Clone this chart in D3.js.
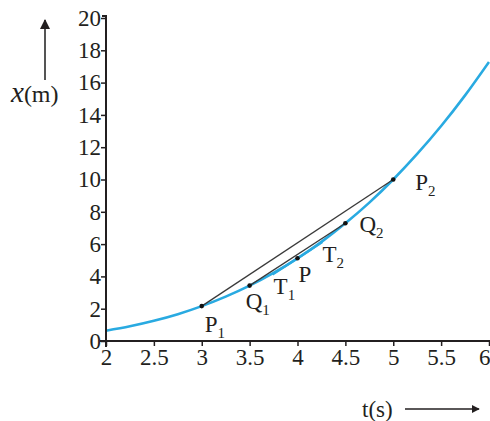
<!DOCTYPE html>
<html>
<head>
<meta charset="utf-8">
<script src="https://cdn.jsdelivr.net/npm/d3@7"></script>
<style>
  body { margin: 0; background: #ffffff; }
  svg { display: block; }
  text { font-family: "Liberation Serif", "DejaVu Serif", serif; fill: #231f20; }
</style>
</head>
<body>
<svg id="chart" width="490" height="421"></svg>
<script>
// Position–time curve samples (t in s, x in m)
const timeValues = [2, 2.25, 2.5, 2.75, 3, 3.25, 3.5, 3.75, 4, 4.25, 4.5, 4.75, 5, 5.25, 5.5, 5.75, 6];
const positionValues = [0.64, 0.91, 1.25, 1.66, 2.16, 2.75, 3.43, 4.22, 5.12, 6.14, 7.29, 8.57, 10, 11.58, 13.31, 15.21, 17.28];

// Marked points on the curve
const pointNames = ["P1", "Q1", "P", "Q2", "P2"];
const pointTimes = [3, 3.5, 4, 4.5, 5];
const pointPositions = [2.16, 3.43, 5.12, 7.29, 10];

// Tangent at P: end points T1 and T2
const tangentTimes = [3.74, 4.26];
const tangentPositions = [4.12, 6.12];

// Axis tick labels
const xTicks = [2, 2.5, 3, 3.5, 4, 4.5, 5, 5.5, 6];
const yTicks = [0, 2, 4, 6, 8, 10, 12, 14, 16, 18, 20];

const svg = d3.select("#chart");
const x = d3.scaleLinear().domain([2, 6]).range([106, 489]);
const y = d3.scaleLinear().domain([0, 20]).range([341, 18]);

const ink = "#231f20";
const blue = "#29aae1";

// Curve
const curveData = timeValues.map((t, i) => [t, positionValues[i]]);
svg.append("path")
  .datum(curveData)
  .attr("fill", "none")
  .attr("stroke", blue)
  .attr("stroke-width", 2.6)
  .attr("d", d3.line().x(d => x(d[0])).y(d => y(d[1])).curve(d3.curveCatmullRom));

// Chords P1P2 and Q1Q2
const chords = [[0, 4], [1, 3]];
chords.forEach(([a, b]) => {
  svg.append("line")
    .attr("x1", x(pointTimes[a])).attr("y1", y(pointPositions[a]))
    .attr("x2", x(pointTimes[b])).attr("y2", y(pointPositions[b]))
    .attr("stroke", "#3a3a3a").attr("stroke-width", 1.3);
});

// Tangent T1T2
svg.append("line")
  .attr("x1", x(tangentTimes[0])).attr("y1", y(tangentPositions[0]))
  .attr("x2", x(tangentTimes[1])).attr("y2", y(tangentPositions[1]))
  .attr("stroke", blue).attr("stroke-width", 2.2);

// Point dots
svg.selectAll("circle.pt")
  .data(pointTimes)
  .join("circle")
  .attr("class", "pt")
  .attr("cx", (d) => x(d))
  .attr("cy", (d, i) => y(pointPositions[i]))
  .attr("r", 2.3)
  .attr("fill", "#111");

// Axes
const xAxis = d3.axisBottom(x).tickValues(xTicks).tickSize(5).tickSizeOuter(0)
  .tickFormat(d3.format("~g"));
const gx = svg.append("g").attr("transform", `translate(0,${y(0)})`).call(xAxis);
gx.select(".domain").attr("stroke", ink).attr("stroke-width", 2).attr("d", `M100,0H490`);
gx.selectAll(".tick line").attr("stroke", ink).attr("stroke-width", 1.5);
gx.selectAll(".tick text").attr("font-size", 23).attr("dy", "0.85em").attr("y", 4)
  .style("font-family", "Liberation Serif").attr("fill", ink)
  .attr("text-anchor", d => d === 6 ? "end" : "middle")
  .attr("dx", d => d === 6 ? 1 : 0);

const yAxis = d3.axisLeft(y).tickValues(yTicks).tickSize(5).tickSizeOuter(0);
const gy = svg.append("g").attr("transform", `translate(${x(2)},0)`).call(yAxis);
gy.select(".domain").attr("stroke", ink).attr("stroke-width", 2).attr("d", `M-4,${y(20) - 2}H0V${y(0) + 6}`);
gy.selectAll(".tick line").attr("stroke", ink).attr("stroke-width", 1.5);
gy.selectAll(".tick text").attr("font-size", 23).attr("x", -5)
  .style("font-family", "Liberation Serif").attr("fill", ink);

// Axis titles with arrows
svg.append("defs").append("marker")
  .attr("id", "arrow").attr("viewBox", "0 0 10 10").attr("refX", 9).attr("refY", 5)
  .attr("markerWidth", 5).attr("markerHeight", 5).attr("orient", "auto")
  .append("path").attr("d", "M0,0L10,5L0,10Z").attr("fill", ink);

svg.append("line").attr("x1", 45).attr("y1", 80).attr("x2", 45).attr("y2", 20)
  .attr("stroke", "#555").attr("stroke-width", 2).attr("marker-end", "url(#arrow)");
const yTitle = svg.append("text").attr("x", 11).attr("y", 102).attr("font-size", 24);
yTitle.append("tspan").attr("font-style", "italic").attr("font-size", 29).text("x");
yTitle.append("tspan").text("(m)");

svg.append("text").attr("x", 362).attr("y", 417).attr("font-size", 23).text("t(s)");
svg.append("line").attr("x1", 405).attr("y1", 409).attr("x2", 479).attr("y2", 409)
  .attr("stroke", ink).attr("stroke-width", 1.6).attr("marker-end", "url(#arrow)");

// Point labels with subscripts
const labels = [
  { base: "P", sub: "1", t: 3, v: 2.16, dx: 3, dy: 26 },
  { base: "Q", sub: "1", t: 3.5, v: 3.43, dx: -4, dy: 23 },
  { base: "T", sub: "1", t: 3.74, v: 4.12, dx: 1, dy: 20 },
  { base: "P", sub: "", t: 4, v: 5.12, dx: 1, dy: 24 },
  { base: "T", sub: "2", t: 4.26, v: 6.12, dx: 0, dy: 20 },
  { base: "Q", sub: "2", t: 4.5, v: 7.29, dx: 14, dy: 9 },
  { base: "P", sub: "2", t: 5, v: 10, dx: 22, dy: 10 }
];
labels.forEach(l => {
  const txt = svg.append("text")
    .attr("x", x(l.t) + l.dx).attr("y", y(l.v) + l.dy).attr("font-size", 23);
  txt.append("tspan").text(l.base);
  if (l.sub) txt.append("tspan").attr("font-size", 15).attr("dy", 6).text(l.sub);
});
</script>
</body>
</html>
